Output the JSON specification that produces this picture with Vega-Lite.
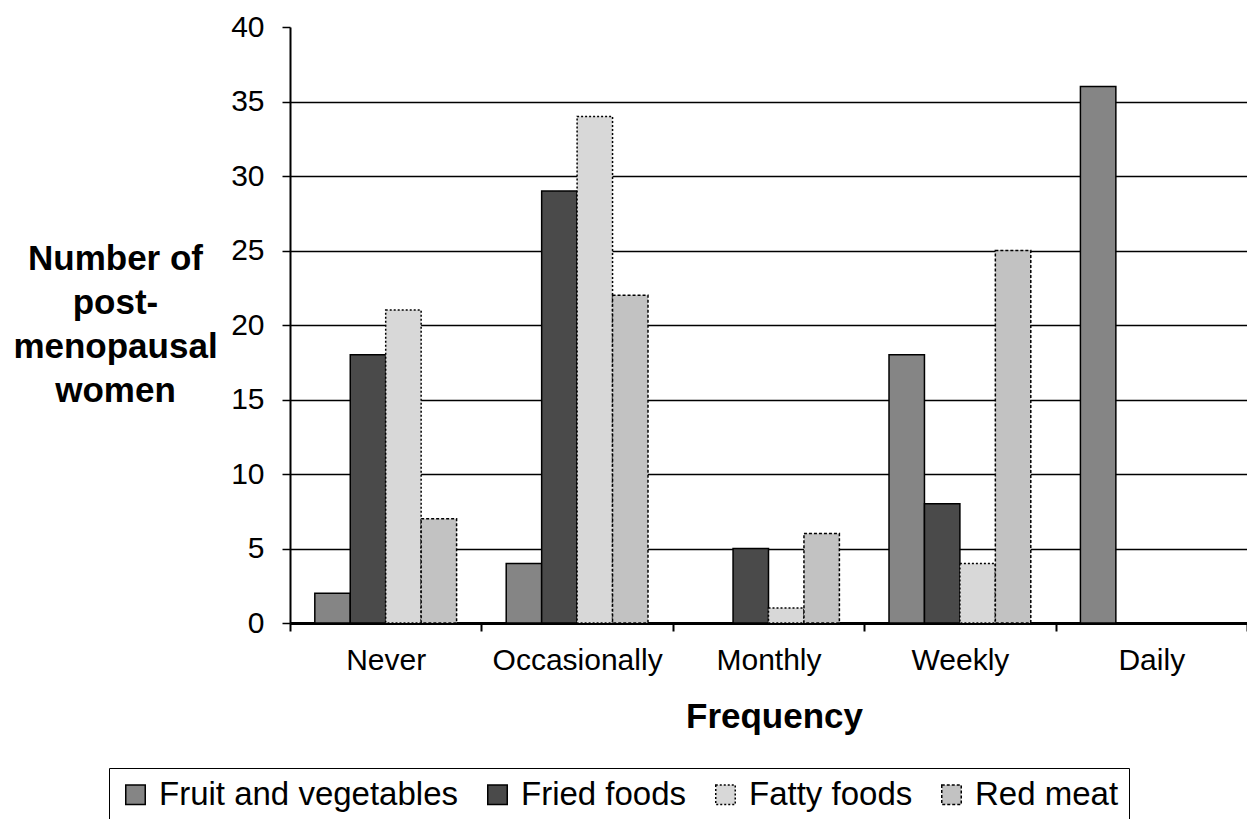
{
  "$schema": "https://vega.github.io/schema/vega-lite/v6.json",
  "width": 957,
  "height": 596,
  "autosize": {"type": "none"},
  "padding": {"left": 290, "top": 27, "right": 0, "bottom": 196},
  "background": "white",
  "config": {
    "font": "Liberation Sans",
    "view": {"stroke": null}
  },
  "data": {
    "values": [
      {"frequency": "Never", "food": "Fruit and vegetables", "count": 2},
      {"frequency": "Never", "food": "Fried foods", "count": 18},
      {"frequency": "Never", "food": "Fatty foods", "count": 21},
      {"frequency": "Never", "food": "Red meat", "count": 7},
      {"frequency": "Occasionally", "food": "Fruit and vegetables", "count": 4},
      {"frequency": "Occasionally", "food": "Fried foods", "count": 29},
      {"frequency": "Occasionally", "food": "Fatty foods", "count": 34},
      {"frequency": "Occasionally", "food": "Red meat", "count": 22},
      {"frequency": "Monthly", "food": "Fruit and vegetables", "count": 0},
      {"frequency": "Monthly", "food": "Fried foods", "count": 5},
      {"frequency": "Monthly", "food": "Fatty foods", "count": 1},
      {"frequency": "Monthly", "food": "Red meat", "count": 6},
      {"frequency": "Weekly", "food": "Fruit and vegetables", "count": 18},
      {"frequency": "Weekly", "food": "Fried foods", "count": 8},
      {"frequency": "Weekly", "food": "Fatty foods", "count": 4},
      {"frequency": "Weekly", "food": "Red meat", "count": 25},
      {"frequency": "Daily", "food": "Fruit and vegetables", "count": 36},
      {"frequency": "Daily", "food": "Fried foods", "count": 0},
      {"frequency": "Daily", "food": "Fatty foods", "count": 0},
      {"frequency": "Daily", "food": "Red meat", "count": 0}
    ]
  },
  "mark": {"type": "bar", "stroke": "black"},
  "encoding": {
    "x": {
      "field": "frequency",
      "type": "nominal",
      "sort": ["Never", "Occasionally", "Monthly", "Weekly", "Daily"],
      "scale": {"paddingInner": 0, "paddingOuter": 0},
      "title": "Frequency",
      "axis": {
        "labelAngle": 0,
        "labelFontSize": 30,
        "labelColor": "black",
        "labelPadding": 14,
        "domainColor": "black",
        "domainWidth": 3,
        "tickBand": "extent",
        "tickColor": "black",
        "tickSize": 8,
        "tickWidth": 2,
        "titleFontSize": 35,
        "titleFontWeight": "bold",
        "titleColor": "black",
        "titleBaseline": "alphabetic",
        "titleY": 104,
        "titleX": 484
      }
    },
    "xOffset": {
      "field": "food",
      "type": "nominal",
      "sort": ["Fruit and vegetables", "Fried foods", "Fatty foods", "Red meat"],
      "scale": {"paddingInner": 0, "paddingOuter": 0.7}
    },
    "y": {
      "field": "count",
      "type": "quantitative",
      "scale": {"domain": [0, 40], "nice": false},
      "title": ["Number of", "post-", "menopausal", "women"],
      "axis": {
        "values": [0, 5, 10, 15, 20, 25, 30, 35, 40],
        "labelFontSize": 30,
        "labelColor": "black",
        "labelPadding": 18,
        "domainColor": "black",
        "domainWidth": 2,
        "tickColor": "black",
        "tickSize": 8,
        "tickWidth": 1.5,
        "grid": true,
        "gridColor": {"condition": {"test": "datum.value === 40", "value": "transparent"}, "value": "black"},
        "gridWidth": 1.5,
        "titleAngle": 0,
        "titleFontSize": 35,
        "titleFontWeight": "bold",
        "titleColor": "black",
        "titleAlign": "center",
        "titleBaseline": "alphabetic",
        "titleX": -175,
        "titleY": 242,
        "titleLineHeight": 44
      }
    },
    "color": {
      "field": "food",
      "type": "nominal",
      "sort": ["Fruit and vegetables", "Fried foods", "Fatty foods", "Red meat"],
      "scale": {
        "domain": ["Fruit and vegetables", "Fried foods", "Fatty foods", "Red meat"],
        "range": ["#858585", "#4a4a4a", "#d8d8d8", "#c2c2c2"]
      },
      "legend": {
        "orient": "none",
        "legendX": -181,
        "legendY": 741,
        "direction": "horizontal",
        "columns": 4,
        "title": null,
        "strokeColor": "black",
        "fillColor": "white",
        "padding": 10,
        "symbolType": "square",
        "symbolSize": 380,
        "symbolStrokeColor": "black",
        "symbolStrokeWidth": 1,
        "labelFontSize": 33,
        "labelColor": "black",
        "labelOffset": 7,
        "labelLimit": 0,
        "columnPadding": 22
      }
    },
    "strokeDash": {
      "field": "food",
      "type": "nominal",
      "scale": {
        "domain": ["Fruit and vegetables", "Fried foods", "Fatty foods", "Red meat"],
        "range": [[1, 0], [1, 0], [2, 2], [3, 2]]
      },
      "legend": null
    },
    "strokeWidth": {
      "field": "food",
      "type": "nominal",
      "scale": {
        "domain": ["Fruit and vegetables", "Fried foods", "Fatty foods", "Red meat"],
        "range": [1.5, 1.5, 1.5, 2.5]
      },
      "legend": null
    }
  }
}
